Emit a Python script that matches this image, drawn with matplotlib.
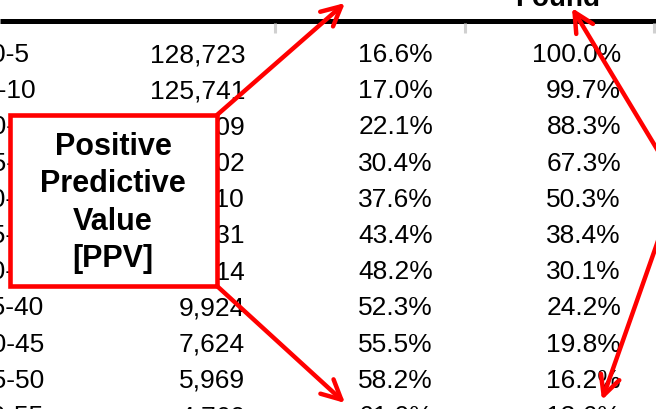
import matplotlib.pyplot as plt
from matplotlib.patches import Rectangle

# table data (cropped screenshot)
ranges = ["0-5", "5-10", "10-15", "15-20", "20-25", "25-30", "30-35", "35-40", "40-45", "45-50", "50-55"]
counts = ["128,723", "125,741", "96,509", "71,302", "52,710", "38,431", "27,314", "9,924", "7,624", "5,969", "4,760"]
ppv = ["16.6%", "17.0%", "22.1%", "30.4%", "37.6%", "43.4%", "48.2%", "52.3%", "55.5%", "58.2%", "61.0%"]
found = ["100.0%", "99.7%", "88.3%", "67.3%", "50.3%", "38.4%", "30.1%", "24.2%", "19.8%", "16.2%", "13.6%"]
box_lines = ["Positive", "Predictive", "Value", "[PPV]"]

plt.rcParams['font.family'] = ['Liberation Sans', 'DejaVu Sans']

fig = plt.figure(figsize=(6.56, 4.09), dpi=100)
ax = fig.add_axes([0, 0, 1, 1])
ax.set_xlim(0, 656)
ax.set_ylim(409, 0)
ax.axis('off')

fs = 19
row0 = 52.5
step = 36.2

# header remains
ax.text(558, 6, "Found", fontsize=fs + 1, fontweight='bold', ha='center', va='baseline')
ax.plot([0, 656], [20.5, 20.5], color='black', lw=3.6, solid_capstyle='butt')
for xt in [275, 465, 654]:
    ax.plot([xt, xt], [23, 33], color='#d0d0d0', lw=2.2, solid_capstyle='butt')

for i in range(len(ranges)):
    yb = row0 + i * step + 9.5
    ax.text(10.5, yb, ranges[i], fontsize=fs, ha='center', va='baseline')
    ax.text(245, yb, counts[i], fontsize=fs, ha='right', va='baseline')
    ax.text(433, yb, ppv[i], fontsize=fs, ha='right', va='baseline')
    ax.text(621, yb, found[i], fontsize=fs, ha='right', va='baseline')

# callout box
ax.add_patch(Rectangle((10, 115), 207, 171, facecolor='white', edgecolor='red', lw=3.3, zorder=3))
for j, s in enumerate(box_lines):
    ax.text(113, 155 + j * 37.3, s, fontsize=22, fontweight='bold', ha='center', va='baseline', zorder=4)

arrow = dict(arrowstyle='->,head_length=1.4,head_width=0.7', color='red', lw=3.2,
             shrinkA=0, shrinkB=0)
ax.annotate('', xy=(345, 3), xytext=(217, 115), arrowprops=arrow, zorder=5)
ax.annotate('', xy=(345, 403), xytext=(217, 286), arrowprops=arrow, zorder=5)
ax.annotate('', xy=(572, 8), xytext=(678, 184), arrowprops=arrow, zorder=5, annotation_clip=False)
ax.annotate('', xy=(602, 400), xytext=(678, 184), arrowprops=arrow, zorder=5, annotation_clip=False)

fig.savefig("out.png", dpi=100)
